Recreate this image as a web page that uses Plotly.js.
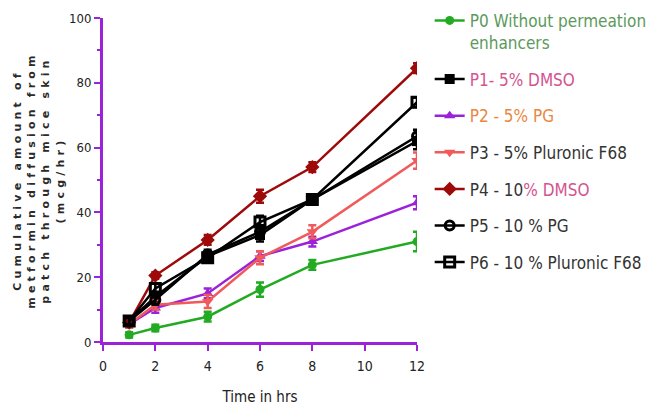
<!DOCTYPE html>
<html><head><meta charset="utf-8">
<script src="https://cdn.plot.ly/plotly-3.0.1.min.js"></script>
<style>body{margin:0;padding:0;background:#fff}#chart{width:654px;height:410px}</style>
</head><body><div id="chart"></div>
<script>
const time = [1, 2, 4, 6, 8, 12];
const p0 = [2.2, 4.3, 7.8, 16.2, 23.8, 31.0];
const p1 = [6.5, 14.0, 26.5, 33.0, 44.0, 62.0];
const p2 = [5.5, 10.5, 15.0, 26.5, 31.0, 43.0];
const p3 = [5.5, 11.5, 12.5, 26.0, 34.0, 56.0];
const p4 = [6.0, 20.5, 31.5, 45.0, 54.0, 84.5];
const p5 = [6.5, 13.0, 27.0, 34.0, 44.0, 63.5];
const p6 = [6.5, 16.5, 26.0, 37.0, 44.0, 74.0];
const e0 = [0.8, 1.0, 1.5, 2.2, 1.5, 3.0];
const e1 = [1.0, 1.5, 1.5, 2.0, 1.5, 2.5];
const e2 = [1.0, 1.5, 1.5, 1.5, 1.5, 2.0];
const e3 = [1.0, 1.5, 2.0, 2.0, 2.0, 2.5];
const e4 = [1.0, 1.0, 1.5, 2.0, 1.5, 1.5];
const e5 = [1.0, 1.5, 1.5, 2.0, 1.5, 2.0];
const e6 = [1.0, 1.5, 1.5, 2.0, 1.5, 1.5];

const names = [
  '<span style="color:#5c9a5c">P0 Without permeation<br>enhancers</span>',
  '<span style="color:#d4548f">P1- 5% DMSO</span>',
  '<span style="color:#e8883e">P2 - 5% PG</span>',
  'P3 - 5% Pluronic F68',
  'P4 - 10<span style="color:#d4548f">% DMSO</span>',
  'P5 - 10 % PG',
  'P6 - 10 % Pluronic F68'
];
const yTitleLines = ['Cumulative amount of', 'metformin diffusion from', 'patch through mice skin', '(mcg/hr)'];
const series = [p0, p1, p2, p3, p4, p5, p6];
const errs = [e0, e1, e2, e3, e4, e5, e6];
const colors = ['#22aa22', '#000000', '#9a22d8', '#f05a5a', '#9e0a0a', '#000000', '#000000'];
const symbols = ['circle', 'square', 'triangle-up', 'triangle-down', 'diamond', 'circle-open', 'square-open'];
const sizes = [9, 10, 10, 10, 11, 9, 10];

const traces = series.map((y, i) => ({
  x: time, y: y, type: 'scatter', mode: 'lines+markers',
  name: names[i], legendgroup: 'g' + i,
  line: {color: colors[i], width: 2.5},
  marker: {symbol: symbols[i], size: sizes[i], color: colors[i], line: {color: colors[i], width: symbols[i].endsWith('open') ? 3 : 0}},
  error_y: {type: 'data', array: errs[i], visible: true, color: colors[i], thickness: 2.5, width: 4}
}));

const narrow = '"DejaVu Sans Condensed", "DejaVu Sans", sans-serif';
const purple = '#9a22d8';

const layout = {
  width: 654, height: 410,
  margin: {l: 103, r: 237, t: 18, b: 68, autoexpand: false},
  paper_bgcolor: '#ffffff', plot_bgcolor: '#ffffff',
  showlegend: true,
  legend: {
    xref: 'container', yref: 'container',
    x: 0.657, xanchor: 'left', y: 0.993, yanchor: 'top',
    font: {family: narrow, size: 17, color: '#333333'},
    traceorder: 'grouped', tracegroupgap: 11.5, valign: 'top',
    bgcolor: 'rgba(0,0,0,0)', itemwidth: 30, maxheight: 405
  },
  xaxis: {
    range: [0, 12], tick0: 0, dtick: 2, showgrid: false, zeroline: false,
    showline: true, linecolor: purple, linewidth: 3,
    ticks: 'outside', ticklen: 6, tickwidth: 2, tickcolor: purple, ticklabelstandoff: 3,
    tickfont: {family: narrow, size: 14, color: '#222222'},
    title: {text: 'Time in hrs', font: {family: narrow, size: 15, color: '#222222'}, standoff: 19}
  },
  yaxis: {
    range: [0, 100], tick0: 0, dtick: 20, showgrid: false, zeroline: false,
    showline: true, linecolor: purple, linewidth: 3,
    ticks: 'outside', ticklen: 6, tickwidth: 2, tickcolor: purple,
    minor: {dtick: 10, ticks: 'outside', ticklen: 3, tickwidth: 2, tickcolor: purple, showgrid: false},
    tickfont: {family: narrow, size: 13, color: '#222222'},
    title: {text: '<b><span style="letter-spacing:4.2px">' + yTitleLines.join('<br>') + '</span></b>',
            font: {family: 'DejaVu Sans, sans-serif', size: 11, color: '#2a2a2a'}, standoff: 3}
  }
};

Plotly.newPlot('chart', traces, layout, {displayModeBar: false, staticPlot: true});
</script></body></html>
